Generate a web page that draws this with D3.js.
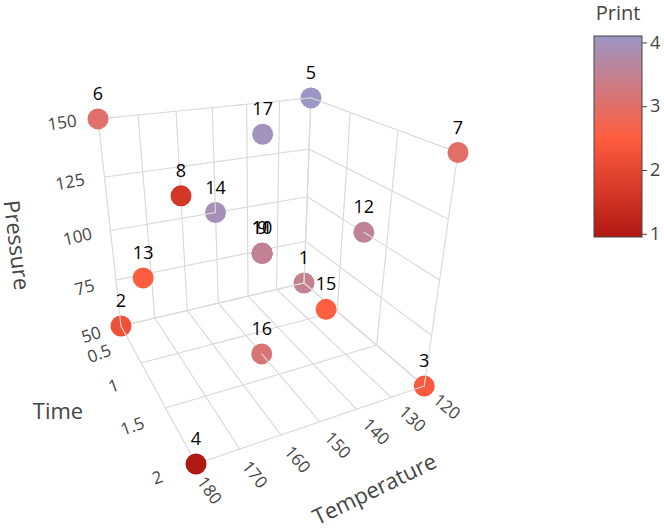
<!DOCTYPE html>
<html>
<head>
<meta charset="utf-8">
<script src="https://cdn.jsdelivr.net/npm/d3@7"></script>
<style>
  html, body { margin: 0; padding: 0; background: #fff; }
  svg { display: block; font-family: "Open Sans", sans-serif; }
</style>
</head>
<body>
<svg id="chart" width="664" height="529"></svg>
<script>
// Face-centred central composite design: 8 corners, 6 face centres, 3 centre runs
const runs        = [1, 2, 3, 4, 5, 6, 7, 8, 9, 10, 11, 12, 13, 14, 15, 16, 17];
const temperature = [120, 180, 120, 180, 120, 180, 120, 180, 150, 150, 150, 120, 180, 150, 150, 150, 150];
const time        = [0.5, 0.5, 2, 2, 0.5, 0.5, 2, 2, 1.25, 1.25, 1.25, 1.25, 1.25, 0.5, 2, 1.25, 1.25];
const pressure    = [50, 50, 50, 50, 150, 150, 150, 150, 100, 100, 100, 100, 100, 100, 100, 50, 150];
const print       = [3.47, 2.21, 2.43, 0.95, 4.1, 3.04, 3.0, 1.64, 3.4, 3.45, 3.5, 3.55, 2.5, 3.94, 2.52, 3.15, 4.02];

const temperatureTicks = [120, 130, 140, 150, 160, 170, 180];
const timeTicks        = [0.5, 1, 1.5, 2];
const pressureTicks    = [50, 75, 100, 125, 150];
const printTicks       = [1, 2, 3, 4];

const svg = d3.select("#chart");

// Normalised box coordinates
const uScale = d3.scaleLinear().domain([180, 120]).range([0, 1]); // temperature
const vScale = d3.scaleLinear().domain([0.5, 2]).range([0, 1]);   // time
const wScale = d3.scaleLinear().domain([50, 150]).range([0, 1]);  // pressure

// Perspective camera (homogeneous 3x4 matrix acting on [u, v, w, 1])
const cameraMatrix = [
  [224.04, 22.2, -37.21, 121],
  [-4.8,   13.0, -224.3, 326],
  [0.135, -0.2694, -0.145, 1]
];
function project(u, v, w) {
  const r = cameraMatrix.map(row => row[0] * u + row[1] * v + row[2] * w + row[3]);
  return { x: r[0] / r[2], y: r[1] / r[2], depth: r[2] };
}

// Colour scale for Print
const printExtent = d3.extent(print);
const printMid = (printExtent[0] + printExtent[1]) / 2;
const colorScale = d3.scaleLinear()
  .domain([printExtent[0], printMid, printExtent[1]])
  .range(["rgb(176,24,18)", "rgb(255,94,64)", "rgb(156,150,196)"])
  .interpolate(d3.interpolateRgb);

// ---- grid lines on the three back planes ----
const gridLines = [];
temperatureTicks.forEach(t => {
  const u = uScale(t);
  gridLines.push([[u, 0, 0], [u, 1, 0]]);   // floor
  gridLines.push([[u, 0, 0], [u, 0, 1]]);   // back wall (time = 0.5)
});
timeTicks.forEach(t => {
  const v = vScale(t);
  gridLines.push([[0, v, 0], [1, v, 0]]);   // floor
  gridLines.push([[1, v, 0], [1, v, 1]]);   // side wall (temperature = 120)
});
pressureTicks.forEach(p => {
  const w = wScale(p);
  gridLines.push([[0, 0, w], [1, 0, w]]);   // back wall
  gridLines.push([[1, 0, w], [1, 1, w]]);   // side wall
});

// Split grid lines into short pieces so they can be depth sorted with the markers
const items = [];
const pieces = 30;
gridLines.forEach(([a, b]) => {
  for (let i = 0; i < pieces; i++) {
    const t0 = i / pieces, t1 = (i + 1) / pieces, tm = (t0 + t1) / 2;
    const lerp = t => [a[0] + (b[0] - a[0]) * t, a[1] + (b[1] - a[1]) * t, a[2] + (b[2] - a[2]) * t];
    const p0 = project(...lerp(t0)), p1 = project(...lerp(t1)), pm = project(...lerp(tm));
    items.push({ kind: "grid", depth: pm.depth, x1: p0.x, y1: p0.y, x2: p1.x, y2: p1.y });
  }
});

const points = runs.map((r, i) => {
  const p = project(uScale(temperature[i]), vScale(time[i]), wScale(pressure[i]));
  return { kind: "dot", run: r, value: print[i], x: p.x, y: p.y, depth: p.depth };
});
points.forEach(p => items.push(p));

// Painter's order: farthest first
items.sort((a, b) => b.depth - a.depth);

const scene = svg.append("g");
scene.selectAll("g.item")
  .data(items)
  .join("g")
  .attr("class", "item")
  .each(function(d) {
    const g = d3.select(this);
    if (d.kind === "grid") {
      g.append("line")
        .attr("x1", d.x1).attr("y1", d.y1).attr("x2", d.x2).attr("y2", d.y2)
        .attr("stroke", "#d9d9d9").attr("stroke-width", 1.1).attr("stroke-linecap", "round");
    } else {
      g.append("circle")
        .attr("cx", d.x).attr("cy", d.y).attr("r", 10.5)
        .attr("fill", colorScale(d.value));
    }
  });

// Run labels above the markers
svg.append("g")
  .selectAll("text")
  .data(points)
  .join("text")
  .attr("x", d => d.x)
  .attr("y", d => d.y - 19)
  .attr("text-anchor", "middle")
  .attr("font-size", 18)
  .attr("fill", "#000")
  .text(d => d.run);

// ---- tick labels ----
function tickLabels(ticks, scale, edge, off0, off1, rot0, rot1) {
  const g = svg.append("g");
  ticks.forEach(t => {
    const s = scale(t);
    const p = project(...edge(s));
    const dx = off0[0] + (off1[0] - off0[0]) * s;
    const dy = off0[1] + (off1[1] - off0[1]) * s;
    const rot = rot0 + (rot1 - rot0) * s;
    const x = p.x + dx, y = p.y + dy;
    g.append("text")
      .attr("transform", `translate(${x},${y}) rotate(${rot})`)
      .attr("text-anchor", "middle")
      .attr("dominant-baseline", "central")
      .attr("font-size", 17)
      .attr("fill", "#444")
      .text(t);
  });
}
tickLabels(pressureTicks, wScale, s => [0, 0, s], [-30, 8], [-36, 3], -18, -8);
tickLabels(timeTicks, vScale, s => [0, s, 0], [-22, 27], [-39, 13], -20, -20);
tickLabels(temperatureTicks, uScale, s => [s, 1, 0], [14, 26], [23, 20], 54, 40);

// ---- axis titles ----
const titles = [
  { text: "Pressure",    x: 18,  y: 245, rot: 83 },
  { text: "Time",        x: 58,  y: 410, rot: 0 },
  { text: "Temperature", x: 374, y: 488, rot: -26 }
];
svg.append("g").selectAll("text")
  .data(titles)
  .join("text")
  .attr("transform", d => `translate(${d.x},${d.y}) rotate(${d.rot})`)
  .attr("text-anchor", "middle")
  .attr("dominant-baseline", "central")
  .attr("font-size", 22)
  .attr("fill", "#444")
  .text(d => d.text);

// ---- colour bar ----
const bar = { x: 594, y0: 36, y1: 237, w: 48 };
const barScale = d3.scaleLinear().domain(printExtent).range([bar.y1, bar.y0]);
const defs = svg.append("defs");
const grad = defs.append("linearGradient")
  .attr("id", "printGradient")
  .attr("x1", 0).attr("y1", 1).attr("x2", 0).attr("y2", 0);
d3.range(0, 1.0001, 0.05).forEach(f => {
  grad.append("stop")
    .attr("offset", f)
    .attr("stop-color", colorScale(printExtent[0] + f * (printExtent[1] - printExtent[0])));
});
svg.append("rect")
  .attr("x", bar.x).attr("y", bar.y0)
  .attr("width", bar.w).attr("height", bar.y1 - bar.y0)
  .attr("fill", "url(#printGradient)")
  .attr("stroke", "#444").attr("stroke-width", 1);

const barAxis = svg.append("g")
  .attr("transform", `translate(${bar.x + bar.w},0)`)
  .call(d3.axisRight(barScale).tickValues(printTicks).tickSize(5).tickPadding(3).tickFormat(d3.format("d")));
barAxis.select(".domain").remove();
barAxis.selectAll("line").attr("stroke", "#444");
barAxis.selectAll("text")
  .attr("font-size", 18)
  .attr("font-family", "'Open Sans', sans-serif")
  .attr("fill", "#444");

svg.append("text")
  .attr("x", bar.x + bar.w / 2)
  .attr("y", 20)
  .attr("text-anchor", "middle")
  .attr("font-size", 20)
  .attr("fill", "#444")
  .text("Print");
</script>
</body>
</html>
